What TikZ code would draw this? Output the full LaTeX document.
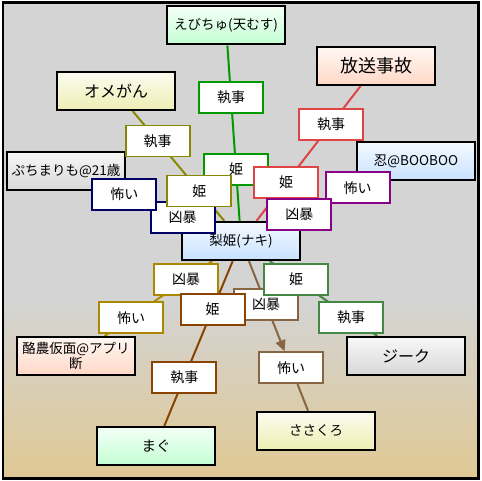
\documentclass[tikz,border=0pt]{standalone}
\usepackage{fontspec}
\setmainfont{Noto Sans CJK JP}
\usetikzlibrary{arrows.meta, calc}

\pgfdeclarelayer{bg}
\pgfdeclarelayer{edges}
\pgfsetlayers{bg,edges,main}

\definecolor{bgGray}{HTML}{D4D4D4}
\definecolor{bgTan}{HTML}{DFC894}
\definecolor{fillGreen}{HTML}{C4FFD4}
\definecolor{fillSalmon}{HTML}{FFD8C6}
\definecolor{fillYellow}{HTML}{EEEEB4}
\definecolor{fillGray}{HTML}{D8D8D8}
\definecolor{fillBlue}{HTML}{C8E2FF}
\definecolor{ebiGreen}{HTML}{009900}
\definecolor{hosoRed}{HTML}{DD4444}
\definecolor{omeOlive}{HTML}{888800}
\definecolor{puchiNavy}{HTML}{000066}
\definecolor{shinoPurple}{HTML}{880088}
\definecolor{rakuGold}{HTML}{AA8800}
\definecolor{maguBrown}{HTML}{884400}
\definecolor{sasaBrown}{HTML}{886644}
\definecolor{ziekGreen}{HTML}{448844}

\begin{document}
\begin{tikzpicture}[
  x=1pt, y=-1pt,
  person/.style={draw, line width=2pt, minimum width=118pt, minimum height=38pt,
                 inner sep=1pt, align=center, font=\fontsize{13.5}{15}\selectfont,
                 top color=#1!20, bottom color=#1},
  tag/.style={draw=#1, fill=white, line width=1.8pt, minimum width=64pt,
              minimum height=31pt, inner sep=0pt, font=\fontsize{14}{15}\selectfont},
  link/.style={draw=#1, line width=2pt}
]
  \useasboundingbox (0,0) rectangle (482,481);

  % people
  \node[person=fillBlue] (nashi) at (241,241) {梨姫(ナキ)};
  \node[person=fillGreen] (ebichu) at (226,25.5) {えびちゅ(天むす)};
  \node[person=fillSalmon, font=\fontsize{18}{20}\selectfont] (hoso) at (376,66) {放送事故};
  \node[person=fillYellow, font=\fontsize{16}{18}\selectfont] (omegan) at (116,91) {オメがん};
  \node[person=fillGray] (puchi) at (66,171) {ぷちまりも@21歳};
  \node[person=fillBlue] (shinobu) at (416,161) {忍@BOOBOO};
  \node[person=fillSalmon, font=\fontsize{13.5}{12}\selectfont] (rakuno) at (76,356) {酪農仮面@アプリ\\断};
  \node[person=fillGray, font=\fontsize{16}{18}\selectfont] (ziek) at (406,356) {ジーク};
  \node[person=fillGreen, font=\fontsize{14.5}{16}\selectfont] (magu) at (156,446) {まぐ};
  \node[person=fillYellow] (sasa) at (316,431) {ささくろ};

  % relation tags, at 1/3 and 2/3 of each link
  \node[tag=ebiGreen] (ebiHime) at ($(nashi)!1/3!(ebichu)$) {姫};
  \node[tag=ebiGreen] (ebiShitsuji) at ($(nashi)!2/3!(ebichu)$) {執事};
  \node[tag=hosoRed] (hosoShitsuji) at ($(nashi)!2/3!(hoso)$) {執事};
  \node[tag=hosoRed] (hosoHime) at ($(nashi)!1/3!(hoso)$) {姫};
  \node[tag=shinoPurple] (shinoKowai) at ($(nashi)!2/3!(shinobu)$) {怖い};
  \node[tag=shinoPurple] (shinoKyobo) at ($(nashi)!1/3!(shinobu)$) {凶暴};
  \node[tag=puchiNavy] (puchiKyobo) at ($(nashi)!1/3!(puchi)$) {凶暴};
  \node[tag=puchiNavy] (puchiKowai) at ($(nashi)!2/3!(puchi)$) {怖い};
  \node[tag=omeOlive] (omeShitsuji) at ($(nashi)!2/3!(omegan)$) {執事};
  \node[tag=omeOlive] (omeHime) at ($(nashi)!1/3!(omegan)$) {姫};
  \node[tag=sasaBrown] (sasaKyobo) at ($(nashi)!1/3!(sasa)$) {凶暴};
  \node[tag=sasaBrown] (sasaKowai) at ($(nashi)!2/3!(sasa)$) {怖い};
  \node[tag=rakuGold] (rakuKyobo) at ($(nashi)!1/3!(rakuno)$) {凶暴};
  \node[tag=rakuGold] (rakuKowai) at ($(nashi)!2/3!(rakuno)$) {怖い};
  \node[tag=maguBrown] (maguHime) at ($(nashi)!1/3!(magu)$) {姫};
  \node[tag=maguBrown] (maguShitsuji) at ($(nashi)!2/3!(magu)$) {執事};
  \node[tag=ziekGreen] (ziekHime) at ($(nashi)!1/3!(ziek)$) {姫};
  \node[tag=ziekGreen] (ziekShitsuji) at ($(nashi)!2/3!(ziek)$) {執事};

  \begin{pgfonlayer}{edges}
    \draw[link=ebiGreen] (nashi) -- (ebichu);
    \draw[link=hosoRed] (nashi) -- (hoso);
    \draw[link=omeOlive] (nashi) -- (omegan);
    \draw[link=puchiNavy] (nashi) -- (puchi);
    \draw[link=shinoPurple] (nashi) -- (shinobu);
    \draw[link=rakuGold] (nashi) -- (rakuno);
    \draw[link=maguBrown] (nashi) -- (magu);
    \draw[link=ziekGreen] (nashi) -- (ziek);
    \draw[link=sasaBrown, -{Triangle[length=11pt, width=10pt]}] (nashi) -- (sasaKowai);
    \draw[link=sasaBrown] (sasaKowai) -- (sasa);
  \end{pgfonlayer}

  \begin{pgfonlayer}{bg}
    \fill[bgGray] (3,3) rectangle (479,300);
    \shade[top color=bgGray, bottom color=bgTan] (3,299.5) rectangle (479,478);
    \draw[line width=2.2pt] (3,2.5) rectangle (478.5,478.5);
  \end{pgfonlayer}
\end{tikzpicture}
\end{document}
